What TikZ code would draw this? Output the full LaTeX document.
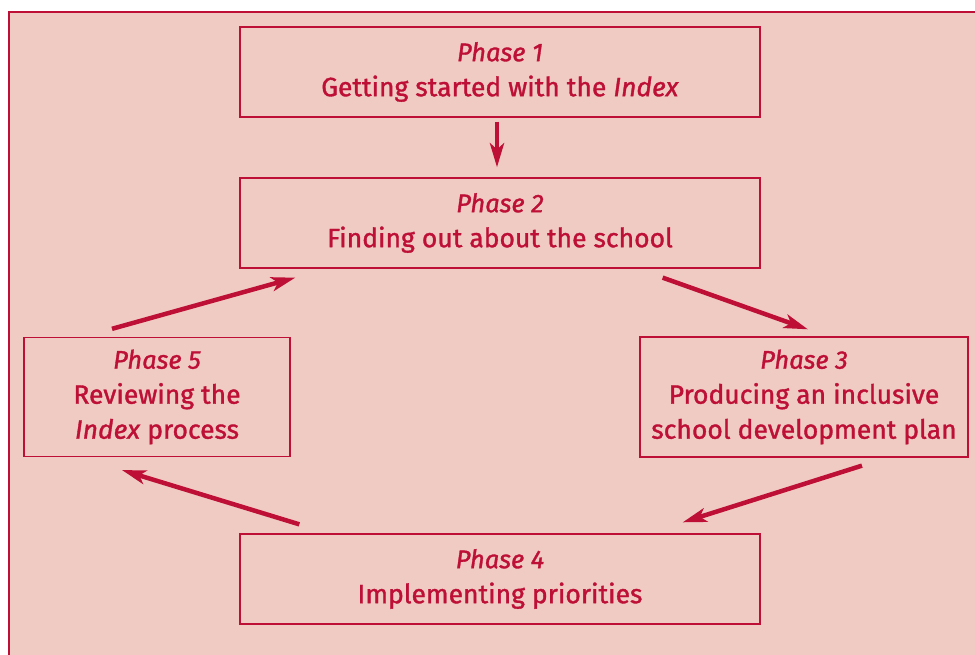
\documentclass[tikz,border=0pt]{standalone}
\usepackage{fontspec}
\setmainfont{Fira Sans}[FakeBold=1.3]
\usetikzlibrary{arrows.meta}
\definecolor{indexred}{RGB}{190,16,55}
\definecolor{indexpink}{RGB}{239,203,196}
\newcommand{\phasename}[1]{{\fontsize{25.5}{35}\selectfont\itshape #1}}

\begin{document}
\begin{tikzpicture}[x=1pt,y=1pt,
	phase/.style={draw=indexred, line width=1.3pt, text=indexred, minimum width=520pt, minimum height=90pt, align=center, inner sep=0pt, font=\fontsize{26.5}{35}\selectfont},
	flow/.style={draw=indexred, line width=4.5pt, -{Stealth[length=24pt,width=14pt,inset=6pt]}}]
	\useasboundingbox (0,0) rectangle (975,655);
	\fill [indexpink] (9,0) rectangle (975,643);
	\draw [indexred, line width=1.3pt] (9,0)--(9,643)--(975,643);
	% the five phases
	\node [phase] (p1) at (500,583) {\phasename{Phase 1}\\Getting started with the \textit{Index}};
	\node [phase] (p2) at (500,432) {\phasename{Phase 2}\\Finding out about the school};
	\node [phase, minimum width=328pt, minimum height=120pt] (p3) at (804,258) {\phasename{Phase 3}\\Producing an inclusive\\school development plan};
	\node [phase] (p4) at (500,76) {\phasename{Phase 4}\\Implementing priorities};
	\node [phase, minimum width=266pt, minimum height=119pt] (p5) at (157,258) {\phasename{Phase 5}\\Reviewing the\\\textit{Index} process};
	% the cycle
	\draw [flow] ([shift={(-3,-4)}]p1.south) -- ([shift={(-3,10)}]p2.north);
	\draw [flow] ([shift={(-98,-9)}]p2.south east) -- ([shift={(4,7)}]p3.north);
	\draw [flow] ([shift={(58,-8)}]p3.south) -- ([shift={(-78,11)}]p4.north east);
	\draw [flow] ([shift={(60,9)}]p4.north west) -- ([shift={(-35,-13)}]p5.south);
	\draw [flow] ([shift={(-45,8)}]p5.north) -- ([shift={(56,-9)}]p2.south west);
\end{tikzpicture}
\end{document}
